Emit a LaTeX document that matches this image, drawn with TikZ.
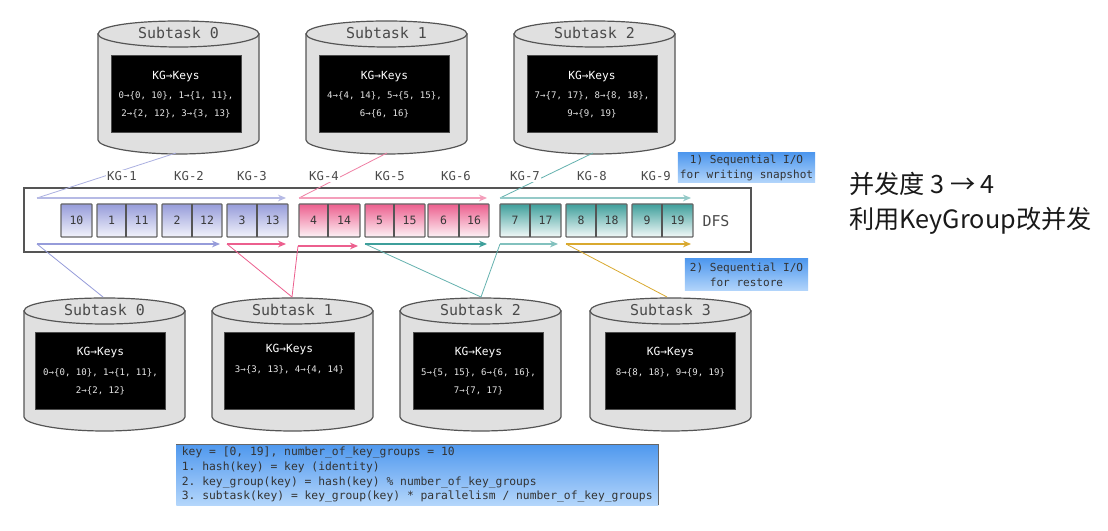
\documentclass[tikz,border=0pt]{standalone}
\usepackage{fontspec}
\setmonofont{DejaVu Sans Mono}
\newfontfamily\cjkfont{Noto Sans CJK SC}
\usetikzlibrary{arrows.meta}
\definecolor{barrel}{HTML}{E0E0E0}
\definecolor{edgegray}{HTML}{555555}
\definecolor{kgblue}{HTML}{969CDA}
\definecolor{kgpink}{HTML}{EC5F8E}
\definecolor{kgteal}{HTML}{3E9F9B}
\definecolor{kggold}{HTML}{D9A92F}
\definecolor{notetop}{HTML}{4F98EE}
\definecolor{notebot}{HTML}{B4D6FB}
\definecolor{lettergray}{HTML}{4A4A4A}
\tikzset{
  barrelbody/.style={draw=edgegray,line width=0.9pt,fill=barrel},
  barreltitle/.style={font=\ttfamily\fontsize{11.2}{12}\selectfont,text=lettergray,inner sep=0pt},
  blackpanel/.style={fill=black,draw=black!70,minimum width=97.5pt,minimum height=57.75pt,inner sep=0pt},
  panelhead/.style={font=\ttfamily\fontsize{8.4}{10}\selectfont,text=white,inner sep=0pt},
  panelbody/.style={font=\ttfamily\fontsize{6.8}{13.4}\selectfont,text=white!90!black,align=center,inner sep=0pt},
  kglabel/.style={font=\ttfamily\fontsize{9.2}{11}\selectfont,text=lettergray,fill=white,inner sep=1pt},
  keycell/.style={draw=edgegray!90,line width=1pt,rounded corners=0.6pt},
  bluecell/.style={keycell,top color=kgblue,bottom color=kgblue!12},
  pinkcell/.style={keycell,top color=kgpink,bottom color=kgpink!8},
  tealcell/.style={keycell,top color=kgteal,bottom color=kgteal!6},
  celltext/.style={font=\ttfamily\fontsize{8.6}{10}\selectfont,text=black!78,inner sep=0pt},
  notebox/.style={top color=notetop,bottom color=notebot,inner sep=0pt,text=black!80,font=\ttfamily\fontsize{8.3}{11.4}\selectfont,align=center},
  flow/.style={line width=0.8pt,-{Stealth[length=6pt,width=5pt]}},
  feed/.style={line width=0.6pt},
}
% One storage barrel: name, left x, top y, title, panel centre x, caption y, key listing
\newcommand{\barrel}[7]{%
  \begin{scope}[shift={(#2,#3)}]
    \path[barrelbody] (0,14) -- (0,120) .. controls (0,127) and (36,134) .. (80.5,134)
      .. controls (125,134) and (161,127) .. (161,120) -- (161,14) -- cycle;
    \path[barrelbody] (0,14) .. controls (0,6) and (36,1) .. (80.5,1)
      .. controls (125,1) and (161,6) .. (161,14)
      .. controls (161,21) and (125,27) .. (80.5,27)
      .. controls (36,27) and (0,21) .. (0,14) -- cycle;
    \node[barreltitle] (#1title) at (80.5,13) {#4};
    \node[blackpanel] (#1panel) at (#5,74) {};
    \node[panelhead] (#1head) at (#5,#6) {KG→Keys};
    \node[panelbody,anchor=north] (#1keys) at (#5,#6+15) {#7};
  \end{scope}}
% A key-group cell pair: name, style, left x, divider x, right x, two numbers
\newcommand{\cellpair}[7]{%
  \path[#2] (#3,204) rectangle (#5,237);
  \node[celltext] (#1a) at ({(#3+#4)/2},220) {#6};
  \node[celltext] (#1b) at ({(#4+#5)/2},220) {#7};
  \draw[edgegray,line width=0.9pt] (#4,204) -- (#4,237);}
\begin{document}
\begin{tikzpicture}[x=0.75pt,y=-0.75pt]
\useasboundingbox[fill=white] (0,0) rectangle (1108,531);

% upper row of barrels
\barrel{up0}{98}{20}{Subtask 0}{78}{56.5}{0→\{0, 10\}, 1→\{1, 11\},\\2→\{2, 12\}, 3→\{3, 13\}}
\barrel{up1}{306}{20}{Subtask 1}{78.5}{56.5}{4→\{4, 14\}, 5→\{5, 15\},\\6→\{6, 16\}}
\barrel{up2}{514}{20}{Subtask 2}{78}{56.5}{7→\{7, 17\}, 8→\{8, 18\},\\9→\{9, 19\}}

% lower row of barrels
\barrel{lo0}{24}{297}{Subtask 0}{76.5}{56}{0→\{0, 10\}, 1→\{1, 11\},\\2→\{2, 12\}}
\barrel{lo1}{212}{297}{Subtask 1}{77.5}{53}{3→\{3, 13\}, 4→\{4, 14\}}
\barrel{lo2}{400}{297}{Subtask 2}{78.5}{56}{5→\{5, 15\}, 6→\{6, 16\},\\7→\{7, 17\}}
\barrel{lo3}{590}{297}{Subtask 3}{80.5}{56}{8→\{8, 18\}, 9→\{9, 19\}}

% DFS frame
\draw[edgegray,line width=1pt,fill=white] (24,188) rectangle (751,252);
\node[font=\ttfamily\fontsize{11.2}{12}\selectfont,text=lettergray,inner sep=0pt] (dfs) at (716,221) {DFS};

% key-group cells
\path[bluecell] (61,204) rectangle (92,237);
\node[celltext] (c0) at (76.5,220) {10};
\cellpair{c1}{bluecell}{97}{126}{157}{1}{11}
\cellpair{c2}{bluecell}{162}{192}{222}{2}{12}
\cellpair{c3}{bluecell}{227}{257}{288}{3}{13}
\cellpair{c4}{pinkcell}{299}{328}{360}{4}{14}
\cellpair{c5}{pinkcell}{365}{394}{425}{5}{15}
\cellpair{c6}{pinkcell}{428}{459}{489}{6}{16}
\cellpair{c7}{tealcell}{500}{530}{561}{7}{17}
\cellpair{c8}{tealcell}{566}{596}{627}{8}{18}
\cellpair{c9}{tealcell}{632}{662}{693}{9}{19}

% end points of the write and restore flows
\coordinate (w0s) at (176,153); \coordinate (w0a) at (37,198);  \coordinate (w0b) at (286,198);
\coordinate (w1s) at (387,153); \coordinate (w1a) at (299,198); \coordinate (w1b) at (487,198);
\coordinate (w2s) at (593,153); \coordinate (w2a) at (500,198); \coordinate (w2b) at (691,198);
\coordinate (r0s) at (103,297); \coordinate (r0a) at (37,244);  \coordinate (r0b) at (220,244);
\coordinate (r1s) at (292,297); \coordinate (r1a) at (227,244); \coordinate (r1b) at (286,244);
\coordinate (r2a) at (298,246); \coordinate (r2b) at (358,246);
\coordinate (r3s) at (481,297); \coordinate (r3a) at (365,244); \coordinate (r3b) at (487,244);
\coordinate (r4a) at (500,244); \coordinate (r4b) at (558,244);
\coordinate (r5s) at (667,297); \coordinate (r5a) at (566,244); \coordinate (r5b) at (691,244);

% snapshot flows, from each barrel into the frame
\draw[feed,kgblue!80] (w0s) -- (w0a);
\draw[flow,kgblue!70] (w0a) -- (w0b);
\draw[feed,kgpink!80] (w1s) -- (w1a);
\draw[flow,kgpink!60] (w1a) -- (w1b);
\draw[feed,kgteal!80] (w2s) -- (w2a);
\draw[flow,kgteal!55] (w2a) -- (w2b);

% restore flows, from the frame down to each barrel
\draw[feed,kgblue] (r0s) -- (r0a);
\draw[flow,kgblue] (r0a) -- (r0b);
\draw[feed,kgpink] (r1s) -- (r1a);
\draw[flow,kgpink] (r1a) -- (r1b);
\draw[feed,kgpink] (r1s) -- (r2a);
\draw[flow,kgpink] (r2a) -- (r2b);
\draw[feed,kgteal!80] (r3s) -- (r3a);
\draw[flow,kgteal] (r3a) -- (r3b);
\draw[feed,kgteal!80] (r3s) -- (r4a);
\draw[flow,kgteal!65] (r4a) -- (r4b);
\draw[feed,kggold] (r5s) -- (r5a);
\draw[flow,kggold] (r5a) -- (r5b);

% key-group captions above the frame
\node[kglabel] (kg1) at (122,176) {KG-1};
\node[kglabel] (kg2) at (189,176) {KG-2};
\node[kglabel] (kg3) at (252,176) {KG-3};
\node[kglabel] (kg4) at (324,176) {KG-4};
\node[kglabel] (kg5) at (390,176) {KG-5};
\node[kglabel] (kg6) at (456,176) {KG-6};
\node[kglabel] (kg7) at (525,176) {KG-7};
\node[kglabel] (kg8) at (592,176) {KG-8};
\node[kglabel] (kg9) at (656,176) {KG-9};

% blue notes
\node[notebox,minimum width=103pt,minimum height=22.5pt] (note1) at (746.5,168) {1) Sequential I/O\\for writing snapshot};
\node[notebox,minimum width=92.5pt,minimum height=24pt] (note2) at (746.5,275) {2) Sequential I/O\\for restore};
\node[notebox,minimum width=361.5pt,minimum height=45.75pt,anchor=north west,align=left,font=\ttfamily\fontsize{8.5}{11}\selectfont,text=black!80] (formula) at (176,444)
  {key = [0, 19], number\_of\_key\_groups = 10\\
   1. hash(key) = key (identity)\\
   2. key\_group(key) = hash(key) \% number\_of\_key\_groups\\
   3. subtask(key) = key\_group(key) * parallelism / number\_of\_key\_groups};
\draw[black!60,line width=0.7pt] (176,444) -- (658,444) -- (658,505);

% caption on the right
\node[anchor=west,inner sep=0pt,font=\cjkfont\fontsize{18.9}{22}\selectfont,text=black!90] (cap1) at (849,184) {并发度 3 → 4};
\node[anchor=west,inner sep=0pt,font=\cjkfont\fontsize{18.9}{22}\selectfont,text=black!90] (cap2) at (849,221) {利用KeyGroup改并发};
\end{tikzpicture}
\end{document}
